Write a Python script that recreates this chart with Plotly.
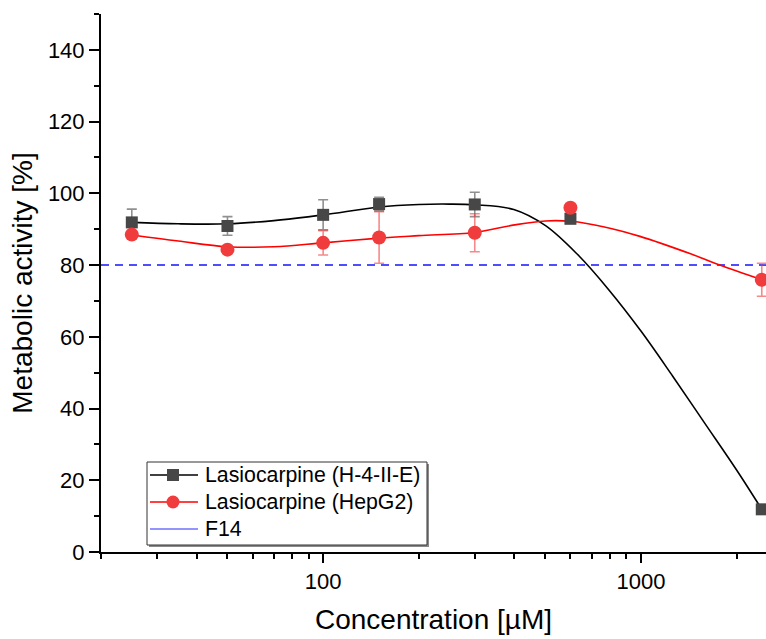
import plotly.graph_objects as go

# Measured data
conc = [25, 50, 100, 150, 300, 600, 2400]
h4_mean = [91.9, 90.9, 94.0, 97.0, 96.9, 92.9, 11.9]
h4_err = [3.7, 2.6, 4.2, 1.9, 3.4, 1.0, 0.5]
hep_mean = [88.5, 84.3, 86.2, 87.7, 89.0, 96.0, 75.9]
hep_err = [1.0, 0.8, 3.4, 7.2, 5.3, 1.0, 4.6]

# Fitted curves
h4_fit_x = [25, 35, 50, 70, 100, 150, 200, 250, 300, 398, 501, 631, 794, 1000, 1259, 1585, 1995, 2400]
h4_fit_y = [91.9, 91.5, 91.5, 92.4, 94.0, 96.2, 96.9, 97.0, 96.8, 95.5, 91.0, 83.0, 73.0, 61.6, 49.0, 36.0, 23.0, 11.9]
hep_fit_x = [25, 35, 50, 70, 100, 150, 200, 300, 400, 500, 600, 780, 993, 1426, 1770, 2400]
hep_fit_y = [88.4, 86.7, 85.1, 85.1, 86.2, 87.5, 88.2, 89.1, 91.2, 92.3, 92.2, 90.5, 88.0, 83.2, 80.0, 75.9]

threshold = 80
x_tick_vals = [100, 1000]
x_tick_text = ["100", "1000"]
x_minor_vals = [20, 30, 40, 50, 60, 70, 80, 90, 200, 300, 400, 500, 600, 700, 800, 900, 2000]

names = ["Lasiocarpine (H-4-II-E)", "Lasiocarpine (HepG2)", "F14"]

FONT = "Arial, Liberation Sans, sans-serif"
BLACK_M = "#474747"
RED_M = "#F03C3C"
BLUE = "#1515ff"

W, H = 766, 639
ML, MR, MT, MB = 101, 0, 14, 87
PW, PH = W - ML - MR, H - MT - MB


def px(x):
    return (x - ML) / PW


def py(y):
    return (H - MB - y) / PH


fig = go.Figure()

# threshold dashed line
fig.add_trace(go.Scatter(x=[20, 2480], y=[threshold, threshold], mode="lines",
                         line=dict(color=BLUE, width=1.5, dash="8px,6px"),
                         showlegend=False, hoverinfo="skip"))

# fitted curves
fig.add_trace(go.Scatter(x=h4_fit_x, y=h4_fit_y, mode="lines",
                         line=dict(color="black", width=1.6, shape="spline", smoothing=1.0),
                         showlegend=False))
fig.add_trace(go.Scatter(x=hep_fit_x, y=hep_fit_y, mode="lines",
                         line=dict(color="#FF0000", width=1.6, shape="spline", smoothing=1.0),
                         showlegend=False))

# data points
fig.add_trace(go.Scatter(x=conc, y=h4_mean, mode="markers", name=names[0],
                         marker=dict(symbol="square", size=12, color=BLACK_M),
                         error_y=dict(type="data", array=h4_err, visible=True,
                                      color="rgba(70,70,70,0.6)", thickness=1.6, width=5),
                         showlegend=False, cliponaxis=False))
fig.add_trace(go.Scatter(x=conc, y=hep_mean, mode="markers", name=names[1],
                         marker=dict(symbol="circle", size=14, color=RED_M),
                         error_y=dict(type="data", array=hep_err, visible=True,
                                      color="rgba(240,60,60,0.6)", thickness=1.6, width=5),
                         showlegend=False, cliponaxis=False))

# legend box (drawn manually for exact spacing)
bx0, bx1, by0, by1 = 147, 427, 462, 545
shapes = [
    dict(type="rect", xref="paper", yref="paper", x0=px(bx0 + 2), x1=px(bx1 + 2),
         y0=py(by1 + 2), y1=py(by0 + 2), fillcolor="#8a8a8a", line=dict(width=0), layer="above"),
    dict(type="rect", xref="paper", yref="paper", x0=px(bx0), x1=px(bx1),
         y0=py(by1), y1=py(by0), fillcolor="white", line=dict(color="#333333", width=1), layer="above"),
]
rows = [475, 502, 529]
line_cols = ["black", "#FF0000", "#7070FF"]
annotations = []
for i, (name, row, lc) in enumerate(zip(names, rows, line_cols)):
    shapes.append(dict(type="line", xref="paper", yref="paper", x0=px(150), x1=px(198),
                       y0=py(row), y1=py(row), line=dict(color=lc, width=1.3 if i < 2 else 1.6),
                       layer="above"))
    annotations.append(dict(text=name, xref="paper", yref="paper", x=px(203), y=py(row),
                            xanchor="left", yanchor="middle", showarrow=False,
                            font=dict(family=FONT, size=21.3, color="black")))
shapes.append(dict(type="rect", xref="paper", yref="paper", x0=px(167), x1=px(179),
                   y0=py(rows[0] + 6), y1=py(rows[0] - 6), fillcolor=BLACK_M,
                   line=dict(width=0), layer="above"))
shapes.append(dict(type="circle", xref="paper", yref="paper", x0=px(166.5), x1=px(179.5),
                   y0=py(rows[1] + 6.5), y1=py(rows[1] - 6.5), fillcolor=RED_M,
                   line=dict(width=0), layer="above"))

fig.update_layout(
    width=W, height=H,
    margin=dict(l=ML, r=MR, t=MT, b=MB),
    paper_bgcolor="white", plot_bgcolor="white",
    font=dict(family=FONT, color="black", size=22),
    showlegend=False,
    shapes=shapes,
    annotations=annotations,
)

fig.update_xaxes(
    type="log", range=[1.30103, 3.3935],
    showline=True, linecolor="black", linewidth=2,
    showgrid=False, zeroline=False,
    tickmode="array", tickvals=x_tick_vals, ticktext=x_tick_text,
    ticks="outside", ticklen=9, tickwidth=2, tickcolor="black",
    tickfont=dict(family=FONT, size=22),
    minor=dict(tickmode="array", tickvals=x_minor_vals, ticks="outside",
               ticklen=5, tickwidth=1.5, tickcolor="black", showgrid=False),
    title=dict(text="Concentration [µM]", font=dict(family=FONT, size=28), standoff=16),
)
fig.update_yaxes(
    range=[0, 150],
    showline=True, linecolor="black", linewidth=2,
    showgrid=False, zeroline=False,
    tickmode="linear", tick0=0, dtick=20,
    ticks="outside", ticklen=10, tickwidth=2, tickcolor="black",
    tickfont=dict(family=FONT, size=22),
    minor=dict(tickmode="linear", tick0=0, dtick=10, ticks="outside",
               ticklen=5, tickwidth=1.5, tickcolor="black", showgrid=False),
    title=dict(text="Metabolic activity [%]", font=dict(family=FONT, size=28), standoff=7),
)

fig.write_html("out.html")
